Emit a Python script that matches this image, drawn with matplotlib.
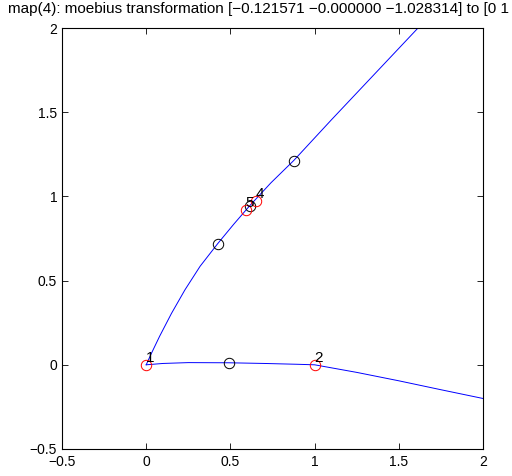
import matplotlib
matplotlib.use("Agg")
import matplotlib.pyplot as plt

plt.rcParams['font.family'] = ['Liberation Sans', 'DejaVu Sans']
plt.rcParams['axes.unicode_minus'] = True

# image of the first line (leaves point 1 upward)
upper_x = [0.0, 0.03, 0.08, 0.15, 0.23, 0.32, 0.425, 0.52, 0.615, 0.74, 0.876, 1.1, 1.35, 1.6, 1.7]
upper_y = [0.0, 0.066, 0.170, 0.305, 0.445, 0.585, 0.72, 0.835, 0.945, 1.08, 1.213, 1.455, 1.72, 1.985, 2.09]

# image of the second line (through points 1 and 2)
lower_x = [0.0, 0.1, 0.25, 0.49, 0.7, 0.9, 1.0, 1.25, 1.5, 1.75, 2.0, 2.1]
lower_y = [0.0, 0.008, 0.013, 0.012, 0.008, 0.003, 0.0, -0.045, -0.095, -0.148, -0.2, -0.221]

# mapped control points
red_x = [0.0, 1.0, 0.65, 0.59]
red_y = [0.0, 0.0, 0.974, 0.92]
red_labels = ['1', '2', '4', '5']

# auxiliary points
black_x = [0.49, 0.425, 0.615, 0.876]
black_y = [0.012, 0.72, 0.945, 1.21]

ticks = [-0.5, 0, 0.5, 1, 1.5, 2]
tick_labels = ['\u22120.5', '0', '0.5', '1', '1.5', '2']

title = 'map(4): moebius transformation [\u22120.121571 \u22120.000000 \u22121.028314] to [0 1 Inf]'

fig = plt.figure(figsize=(5.12, 4.76), dpi=100)
ax = fig.add_axes([62/512, 1 - 449/476, (483 - 62)/512, (449 - 28)/476])

ax.plot(upper_x, upper_y, color='#0000ff', lw=0.7)
ax.plot(lower_x, lower_y, color='#0000ff', lw=0.7)
ax.plot(black_x, black_y, 'o', mfc='none', mec='black', ms=7.5, mew=0.7)
ax.plot(red_x, red_y, 'o', mfc='none', mec='red', ms=7.5, mew=0.7)
for x, y, s in zip(red_x, red_y, red_labels):
    ax.text(x, y, s, ha='left', va='bottom', fontsize=11)

ax.set_xlim(-0.5, 2)
ax.set_ylim(-0.5, 2)
ax.set_xticks(ticks)
ax.set_xticklabels(tick_labels)
ax.set_yticks(ticks)
ax.set_yticklabels(tick_labels)
ax.tick_params(direction='in', length=4, width=0.6, top=True, right=True,
               labelsize=10)
ax.tick_params(axis='x', pad=4.0)
ax.tick_params(axis='y', pad=3.5)
for sp in ax.spines.values():
    sp.set_linewidth(0.8)

fig.text(8/512, 1 - 2/476, title, ha='left', va='top', fontsize=11)

fig.savefig('out.png', dpi=100)
